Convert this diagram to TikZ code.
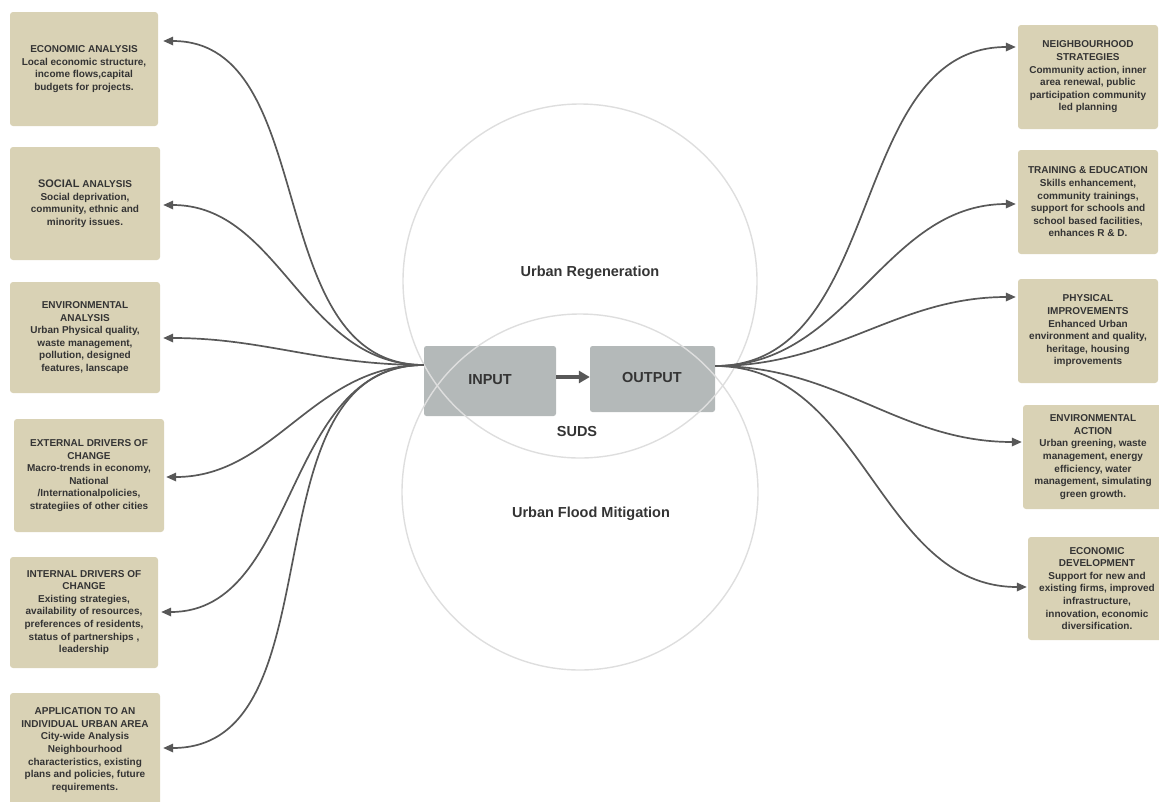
\documentclass[tikz,border=0pt]{standalone}
\usepackage{fontspec}
\setmainfont{Liberation Sans}
\usetikzlibrary{arrows.meta}
\definecolor{boxfill}{RGB}{217,210,181}
\definecolor{flowfill}{RGB}{180,185,185}
\definecolor{txt}{RGB}{52,52,52}
\definecolor{wire}{RGB}{88,88,88}
\definecolor{ringcol}{RGB}{222,222,222}

\begin{document}
\begin{tikzpicture}[x=1pt,y=-1pt,
  infobox/.style={fill=boxfill, rounded corners=3pt, align=center, text=txt,
    font=\bfseries\fontsize{10}{12.6}\selectfont, inner sep=2pt},
  flowbox/.style={fill=flowfill, rounded corners=2.5pt, text=txt,
    font=\bfseries\fontsize{14.5}{16}\selectfont, inner sep=0pt},
  biglabel/.style={text=txt, font=\bfseries\fontsize{14.5}{16}\selectfont, inner sep=0pt},
  ring/.style={draw=ringcol, line width=1.4pt},
  conn/.style={draw=wire, line width=1.7pt, -{Triangle[length=10pt,width=8.5pt]}},
]
\useasboundingbox (0,0) rectangle (1159,801);

% central flow boxes
\node[flowbox, minimum width=132pt, minimum height=70pt] (IN) at (490,381) {};
\node[flowbox, minimum width=125pt, minimum height=66pt] (OUT) at (652.5,379) {};
\node[biglabel] (inlbl) at (490,380) {INPUT};
\node[biglabel] (outlbl) at (652,378) {OUTPUT};
\draw[draw=wire, line width=3.4pt, -{Triangle[length=11pt,width=12pt]}]
  (IN.east |- 0,377) -- (OUT.west |- 0,377);

% overlapping circles
\draw[ring] (580,281) circle[radius=177pt];
\draw[ring] (580,492) circle[radius=178pt];
\node[biglabel] (regen) at (590,273) {Urban Regeneration};
\node[biglabel] (flood) at (591,514) {Urban Flood Mitigation};
\node[biglabel] (suds) at (577,432) {SUDS};

% left column
\node[infobox, minimum width=148pt, minimum height=114pt] (L1) at (84,69)
  {ECONOMIC ANALYSIS\\Local economic structure,\\income flows,capital\\budgets for projects.};
\node[infobox, minimum width=150pt, minimum height=113pt] (L2) at (85,203.5)
  {{\fontsize{11}{12.6}\selectfont SOCIAL} ANALYSIS\\Social deprivation,\\community, ethnic and\\minority issues.};
\node[infobox, minimum width=150pt, minimum height=111pt] (L3) at (85,337.5)
  {ENVIRONMENTAL\\ANALYSIS\\Urban Physical quality,\\waste management,\\pollution, designed\\features, lanscape};
\node[infobox, minimum width=150pt, minimum height=113pt] (L4) at (89,475.5)
  {EXTERNAL DRIVERS OF\\CHANGE\\Macro-trends in economy,\\National\\/Internationalpolicies,\\strategiies of other cities};
\node[infobox, minimum width=148pt, minimum height=111pt] (L5) at (84,612.5)
  {INTERNAL DRIVERS OF\\CHANGE\\Existing strategies,\\availability of resources,\\preferences of residents,\\status of partnerships ,\\leadership};
\node[infobox, minimum width=150pt, minimum height=114pt] (L6) at (85,750)
  {APPLICATION TO AN\\INDIVIDUAL URBAN AREA\\City-wide Analysis\\Neighbourhood\\characteristics, existing\\plans and policies, future\\requirements.};

% right column
\node[infobox, minimum width=140pt, minimum height=104pt] (R1) at (1088,77)
  {NEIGHBOURHOOD\\STRATEGIES\\Community action, inner\\area renewal,  public\\participation community\\led planning};
\node[infobox, minimum width=140pt, minimum height=104pt] (R2) at (1088,202)
  {TRAINING \& EDUCATION\\Skills enhancement,\\community trainings,\\support for schools and\\school based facilities,\\enhances R \& D.};
\node[infobox, minimum width=140pt, minimum height=104pt] (R3) at (1088,331)
  {PHYSICAL\\IMPROVEMENTS\\Enhanced Urban\\environment and quality,\\heritage, housing\\improvements};
\node[infobox, minimum width=140pt, minimum height=104pt] (R4) at (1093,457)
  {ENVIRONMENTAL\\ACTION\\Urban greening, waste\\management, energy\\efficiency, water\\management, simulating\\green growth.};
\node[infobox, minimum width=138pt, minimum height=103pt] (R5) at (1097,588.5)
  {ECONOMIC\\DEVELOPMENT\\Support for new and\\existing firms, improved\\infrastructure,\\innovation, economic\\diversification.};

% connectors from INPUT to the analysis boxes
\draw[conn, shorten >=5pt] (IN.west |- 0,365) to[out=180,in=0] (L1.east |- 0,41);
\draw[conn, shorten >=3pt] (IN.west |- 0,365) to[out=180,in=0] (L2.east |- 0,205);
\draw[conn, shorten >=3pt] (IN.west |- 0,365) to[out=180,in=0] (L3.east |- 0,338);
\draw[conn, shorten >=2pt] (IN.west |- 0,365) to[out=180,in=0] (L4.east |- 0,477);
\draw[conn, shorten >=3pt] (IN.west |- 0,365) to[out=180,in=0] (L5.east |- 0,612);
\draw[conn, shorten >=3pt] (IN.west |- 0,365) to[out=180,in=0] (L6.east |- 0,748);

% connectors from OUTPUT to the outcome boxes
\draw[conn, shorten >=2pt] (OUT.east |- 0,366) to[out=0,in=180] (R1.west |- 0,47);
\draw[conn, shorten >=2pt] (OUT.east |- 0,366) to[out=0,in=180] (R2.west |- 0,204);
\draw[conn, shorten >=2pt] (OUT.east |- 0,366) to[out=0,in=180] (R3.west |- 0,297);
\draw[conn, shorten >=1pt] (OUT.east |- 0,366) to[out=0,in=180] (R4.west |- 0,442);
\draw[conn, shorten >=1pt] (OUT.east |- 0,366) to[out=0,in=180] (R5.west |- 0,587);
\end{tikzpicture}
\end{document}
